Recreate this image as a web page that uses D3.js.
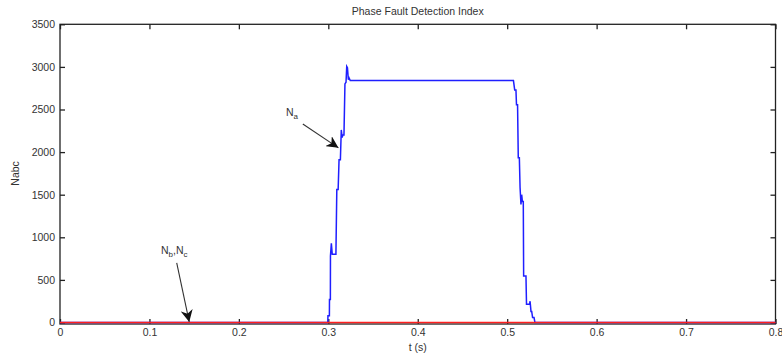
<!DOCTYPE html>
<html>
<head>
<meta charset="utf-8">
<script src="https://cdn.jsdelivr.net/npm/d3@7"></script>
<style>
  html, body { margin: 0; padding: 0; background: #fff; }
  svg { display: block; }
  text { font-family: "Liberation Sans", Arial, sans-serif; fill: #333; }
</style>
</head>
<body>
<svg id="chart" width="782" height="356"></svg>
<script>
// Phase fault detection index over time
const xTicks = [0, 0.1, 0.2, 0.3, 0.4, 0.5, 0.6, 0.7, 0.8];
const yTicks = [0, 500, 1000, 1500, 2000, 2500, 3000, 3500];

// Phase a index: time (s) and value
const naTime = [0, 0.2994, 0.2996, 0.3012, 0.3013, 0.3023, 0.3024, 0.3034, 0.3044, 0.3050, 0.3085, 0.3095,
  0.3110, 0.3120, 0.3135, 0.3145, 0.3155, 0.3162, 0.3175, 0.3186, 0.3198, 0.3206, 0.3214, 0.3224, 0.3232,
  0.3245, 0.5070, 0.5084, 0.5098, 0.5104, 0.5116, 0.5124, 0.5136, 0.5144, 0.5154, 0.5162, 0.5170, 0.5180,
  0.5184, 0.5210, 0.5216, 0.5250, 0.5256, 0.5266, 0.5274, 0.5284, 0.5300, 0.5310, 0.8];
const naValue = [0, 0, 80, 80, 270, 270, 780, 930, 800, 800, 800, 1560,
  1560, 1910, 1910, 2260, 2170, 2200, 2200, 2800, 2820, 3005, 2990, 2850, 2870,
  2840, 2840, 2730, 2730, 2555, 2555, 1935, 1935, 1585, 1385, 1500, 1420, 1420,
  545, 545, 215, 215, 250, 130, 130, 60, 60, 0, 0];

// Phases b and c stay at zero for the whole run
const nbcTime = [0, 0.8];
const nbcValue = [0, 0];

const svg = d3.select("#chart");
const mLeft = 60, mRight = 775.5, mTop = 24.3, mBottom = 322.5;

const x = d3.scaleLinear().domain([0, 0.8]).range([mLeft, mRight]);
const y = d3.scaleLinear().domain([0, 3500]).range([mBottom, mTop]);

// Axis box
svg.append("rect")
  .attr("x", mLeft).attr("y", mTop)
  .attr("width", mRight - mLeft).attr("height", mBottom + 1.5 - mTop)
  .attr("fill", "none").attr("stroke", "#222").attr("stroke-width", 1.3);

const tickLen = 5;
const gx = svg.append("g").attr("transform", `translate(0,${mBottom + 1.5})`)
  .call(d3.axisBottom(x).tickValues(xTicks).tickSize(-tickLen).tickPadding(5)
    .tickFormat(d => d === 0 ? "0" : d3.format(".1f")(d)));
const gxTop = svg.append("g").attr("transform", `translate(0,${mTop})`)
  .call(d3.axisTop(x).tickValues(xTicks).tickSize(-tickLen).tickFormat(""));
const gy = svg.append("g").attr("transform", `translate(${mLeft},0)`)
  .call(d3.axisLeft(y).tickValues(yTicks).tickSize(-tickLen).tickPadding(5).tickFormat(d3.format("d")));
const gyRight = svg.append("g").attr("transform", `translate(${mRight},0)`)
  .call(d3.axisRight(y).tickValues(yTicks).tickSize(-tickLen).tickFormat(""));

[gx, gxTop, gy, gyRight].forEach(g => {
  g.select(".domain").remove();
  g.selectAll(".tick line").attr("stroke", "#222").attr("stroke-width", 1.3);
  g.selectAll(".tick text").attr("font-size", 10.5).style("font-family", '"Liberation Sans", Arial, sans-serif').attr("fill", "#444");
});

// Series lines
const line = d3.line().x(d => x(d[0])).y(d => y(d[1]));
const naData = naTime.map((t, i) => [t, naValue[i]]);
const nbcData = nbcTime.map((t, i) => [t, nbcValue[i]]);

svg.append("path").datum(naData)
  .attr("d", line).attr("fill", "none")
  .attr("stroke", "#1f1fff").attr("stroke-width", 1.5);

svg.append("path").datum(nbcData)
  .attr("d", line).attr("fill", "none")
  .attr("stroke", "#ff2020").attr("stroke-width", 1.6);

// Title and axis labels
svg.append("text").attr("x", (mLeft + mRight) / 2).attr("y", 15)
  .attr("text-anchor", "middle").attr("font-size", 10.5).text("Phase Fault Detection Index");
svg.append("text").attr("x", (mLeft + mRight) / 2).attr("y", 351)
  .attr("text-anchor", "middle").attr("font-size", 10.5).text("t (s)");
svg.append("text").attr("transform", `translate(19,${(mTop + mBottom) / 2}) rotate(-90)`)
  .attr("text-anchor", "middle").attr("font-size", 10.5).text("Nabc");

// Annotation arrows
const defs = svg.append("defs");
defs.append("marker").attr("id", "arrow")
  .attr("viewBox", "0 0 10 10").attr("refX", 10).attr("refY", 5)
  .attr("markerWidth", 12).attr("markerHeight", 12).attr("markerUnits", "userSpaceOnUse")
  .attr("orient", "auto")
  .append("path").attr("d", "M0,0 L10,5 L0,10 L3,5 Z").attr("fill", "#111");

function annotate(tx, ty, t0, v0, t1, v1, main, subs) {
  const txt = svg.append("text").attr("x", tx).attr("y", ty).attr("font-size", 10.5).attr("fill", "#334");
  subs.forEach((s, i) => {
    if (i > 0) txt.append("tspan").attr("dy", -3).text(",");
    txt.append("tspan").text(main);
    txt.append("tspan").attr("dy", 3).attr("font-size", 8).text(s);
  });
  svg.append("line")
    .attr("x1", x(t0)).attr("y1", y(v0)).attr("x2", x(t1)).attr("y2", y(v1))
    .attr("stroke", "#333").attr("stroke-width", 1.1)
    .attr("marker-end", "url(#arrow)");
}

annotate(286, 116, 0.2715, 2330, 0.3113, 2050, "N", ["a"]);
annotate(161, 254, 0.1305, 700, 0.1445, 6, "N", ["b", "c"]);
</script>
</body>
</html>
